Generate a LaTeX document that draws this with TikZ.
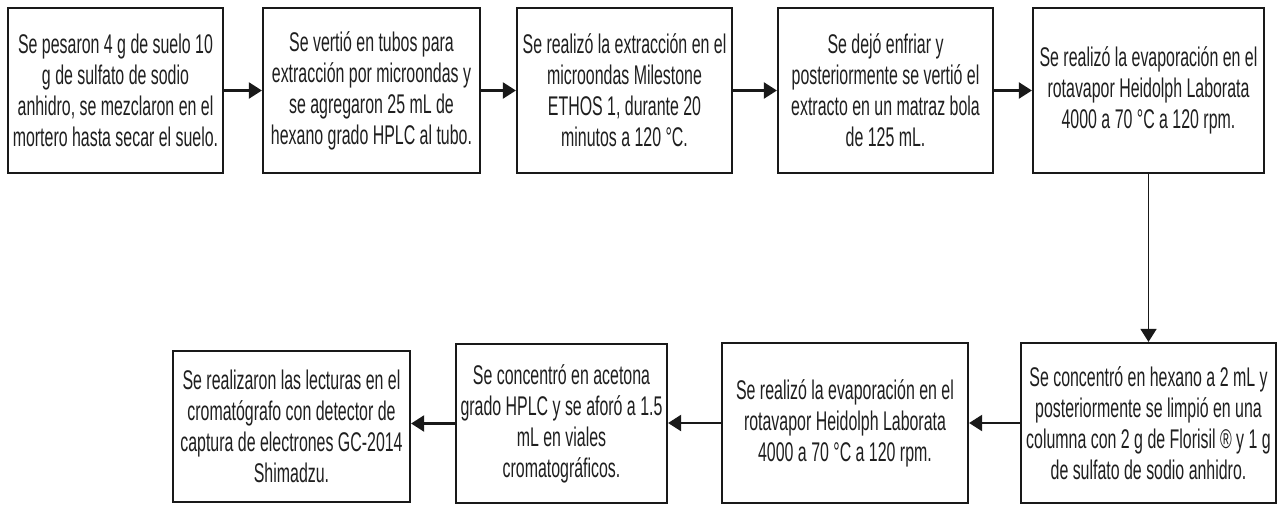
\documentclass[tikz,border=0pt]{standalone}
\usepackage{fontspec}
\setmainfont{Liberation Sans}[FakeStretch=0.59]
\usetikzlibrary{arrows.meta}

\begin{document}
\begin{tikzpicture}[x=1pt, y=-1pt,
    paso/.style={draw=black!90, line width=2.2pt, fill=white,
      align=center, inner sep=0pt, text=black!88,
      font=\fontsize{27}{31}\selectfont}]
  \useasboundingbox (0,0) rectangle (1279,504);

  % first row
  \node (pesar)
    [paso, minimum width=215pt, minimum height=165pt]
    at (115.5,90.5)
    {Se pesaron 4 g de suelo 10\\
     g de sulfato de sodio\\
     anhidro, se mezclaron en el\\
     mortero hasta secar el suelo.};
  \node (verter)
    [paso, minimum width=217pt, minimum height=165pt]
    at (371.5,90.5)
    {Se verti\'o en tubos para\\
     extracci\'on por microondas y\\
     se agregaron 25 mL de\\
     hexano grado HPLC al tubo.};
  \node (extraer)
    [paso, minimum width=215pt, minimum height=165pt]
    at (624.5,90.5)
    {Se realiz\'o la extracci\'on en el\\
     microondas Milestone\\
     ETHOS 1, durante 20\\
     minutos a 120 °C.};
  \node (enfriar)
    [paso, minimum width=215pt, minimum height=165pt]
    at (885.5,90.5)
    {Se dej\'o enfriar y\\
     posteriormente se verti\'o el\\
     extracto en un matraz bola\\
     de 125 mL.};
  \node (evapA)
    [paso, minimum width=231pt, minimum height=165pt]
    at (1148.5,90.5)
    {Se realiz\'o la evaporaci\'on en el\\
     rotavapor Heidolph Laborata\\
     4000 a 70 °C a 120 rpm.};

  % second row
  \node (limpiar)
    [paso, minimum width=255pt, minimum height=160pt]
    at (1148.5,423)
    {Se concentr\'o en hexano a 2 mL y\\
     posteriormente se limpi\'o en una\\
     columna con 2 g de Florisil ® y 1 g\\
     de sulfato de sodio anhidro.};
  \node (evapB)
    [paso, minimum width=246pt, minimum height=160pt]
    at (845,423)
    {Se realiz\'o la evaporaci\'on en el\\
     rotavapor Heidolph Laborata\\
     4000 a 70 °C a 120 rpm.};
  \node (aforar)
    [paso, minimum width=211pt, minimum height=159pt]
    at (561.5,423.5)
    {Se concentr\'o en acetona\\
     grado HPLC y se afor\'o a 1.5\\
     mL en viales\\
     cromatogr\'aficos.};
  \node (leer)
    [paso, minimum width=237pt, minimum height=151pt]
    at (291.5,426.5)
    {Se realizaron las lecturas en el\\
     cromat\'ografo con detector de\\
     captura de electrones GC-2014\\
     Shimadzu.};

  % edges
  \path [color=black!90, line width=2.2pt, -{Triangle[length=13pt, width=16pt]}]
    (pesar) edge (verter)
    (verter) edge (extraer)
    (extraer) edge (enfriar)
    (enfriar) edge (evapA)
    (evapA) edge [line width=1.6pt] (limpiar)
    (limpiar.west) edge (limpiar.west -| evapB.east)
    (evapB.west) edge (evapB.west -| aforar.east)
    (aforar.west) edge (aforar.west -| leer.east)
    ;
\end{tikzpicture}
\end{document}
